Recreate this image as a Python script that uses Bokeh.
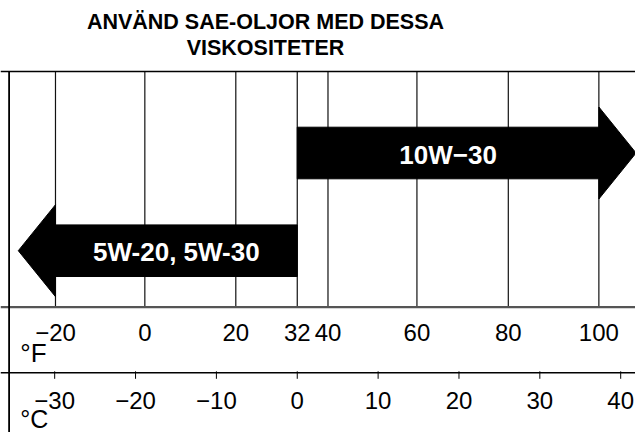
import numpy as np
from bokeh.plotting import figure
from bokeh.models import Range1d
from bokeh.core.properties import value
from bokeh.embed import file_html
from bokeh.resources import INLINE

# ---------------- data ----------------
title_lines = ["ANVÄND SAE-OLJOR MED DESSA", "VISKOSITETER"]

# Fahrenheit scale: labels and where each line sits on the chart (in °C)
f_ticks = [-20, 0, 20, 32, 40, 60, 80, 100]
f_labels = ["−20", "0", "20", "32", "40", "60", "80", "100"]
f_tick_pos_c = [-29.9, -18.85, -7.6, 0.0, 3.8, 14.8, 26.1, 37.3]

# Celsius scale
c_ticks = [-30, -20, -10, 0, 10, 20, 30, 40]
c_labels = ["−30", "−20", "−10", "0", "10", "20", "30", "40"]

# Oil grades: from (°F, closed end) to (°F, open arrow end)
grades = ["10W−30", "5W-20, 5W-30"]
grade_from_f = [32, 32]
grade_to_f = [100, -20]

# ---------------- layout / style constants ----------------
W, H = 635, 432
X0, X1 = -36.70, 41.83          # °C at left/right figure edge
FONT = value("Liberation Sans")
TOP, F_SEP, C_SEP = 71, 306.7, 372.3   # y in px from top of figure
ARROW_Y = [152.5, 250.2]
BODY_HALF, HEAD_HALF, HEAD_LEN = 25.8, 46.0, 4.6

p = figure(width=W, height=H, output_backend="svg", toolbar_location=None,
           x_range=Range1d(X0, X1), y_range=Range1d(H, 0),
           x_axis_location=None, y_axis_location=None, min_border=0,
           background_fill_color="white", border_fill_color="white")
p.outline_line_color = None
p.grid.visible = False

# ---- title ----
p.text(x=[-3.93, -3.93], y=[21.5, 47], text=title_lines, text_align="center",
       text_baseline="middle", text_font=FONT, text_font_style="bold",
       text_font_size="21.5px", text_color="black")

# ---- vertical grid lines (Fahrenheit) ----
p.segment(x0=f_tick_pos_c, y0=[TOP] * len(f_ticks), x1=f_tick_pos_c,
          y1=[F_SEP] * len(f_ticks), line_color="#111111", line_width=1.2)

# ---- arrows ----
for g, a, b, yc in zip(grades, grade_from_f, grade_to_f, ARROW_Y):
    xa = float(np.interp(a, f_ticks, f_tick_pos_c))
    xb = float(np.interp(b, f_ticks, f_tick_pos_c))
    d = 1 if xb > xa else -1
    tip = xb + d * HEAD_LEN
    xs = [xa, xb, xb, tip, xb, xb, xa]
    ys = [yc - BODY_HALF, yc - BODY_HALF, yc - HEAD_HALF, yc,
          yc + HEAD_HALF, yc + BODY_HALF, yc + BODY_HALF]
    p.patch(xs, ys, fill_color="black", line_color="black", line_width=1)
    p.text(x=[(xa + xb) / 2], y=[yc + 1.5], text=[g], text_align="center",
           text_baseline="middle", text_font=FONT, text_font_style="bold",
           text_font_size="26px", text_color="white")

# ---- frame lines ----
p.segment(x0=[X0, X0], y0=[TOP, C_SEP], x1=[X1, X1], y1=[TOP, C_SEP],
          line_color="black", line_width=1.5)
p.segment(x0=[X0], y0=[F_SEP], x1=[X1], y1=[F_SEP],
          line_color="#555555", line_width=2.2)
lx = X0 + 8.6 / 8.086
p.segment(x0=[lx], y0=[TOP], x1=[lx], y1=[H],
          line_color="black", line_width=1.8)

# ---- Celsius tick marks ----
p.segment(x0=c_ticks, y0=[C_SEP - 1.5] * len(c_ticks), x1=c_ticks,
          y1=[C_SEP + 6] * len(c_ticks), line_color="black", line_width=1)

# ---- scale labels ----
p.text(x=f_tick_pos_c, y=[331.5] * len(f_labels), text=f_labels, text_align="center",
       text_baseline="middle", text_font=FONT, text_font_size="24px",
       text_color="black")
p.text(x=c_ticks, y=[399.5] * len(c_labels), text=c_labels, text_align="center",
       text_baseline="middle", text_font=FONT, text_font_size="24px",
       text_color="black")
p.text(x=[-34.25], y=[352.5], text=["°F"], text_align="left",
       text_baseline="middle", text_font=FONT, text_font_size="26px",
       text_color="black")
p.text(x=[-34.25], y=[418], text=["°C"], text_align="left",
       text_baseline="middle", text_font=FONT, text_font_size="25px",
       text_color="black")

open("out.html", "w").write(file_html(p, INLINE))
